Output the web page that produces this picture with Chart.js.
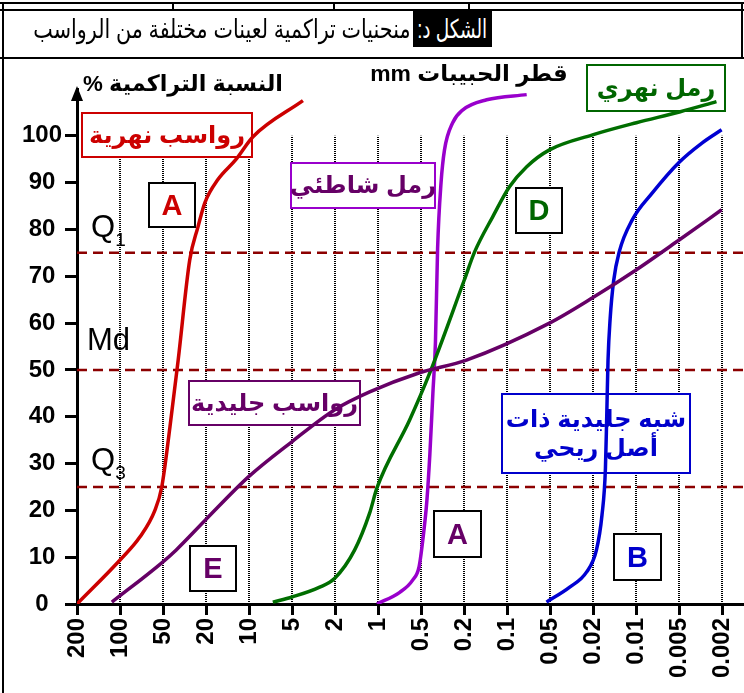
<!DOCTYPE html>
<html>
<head>
<meta charset="utf-8">
<script src="https://cdn.jsdelivr.net/npm/chart.js@4.4.1/dist/chart.umd.min.js"></script>
<style>
body { margin: 0; background: #fff; }
#page { position: relative; width: 744px; height: 693px; overflow: hidden; font-family: "Liberation Sans", Arial, "DejaVu Sans", sans-serif; }
#chart { position: absolute; left: 0; top: 0; }
.line { position: absolute; background: #000; }
.note { position: absolute; display: flex; align-items: center; justify-content: center; text-align: center; font-weight: bold; direction: rtl; line-height: 1.2; white-space: nowrap; }
.lbl { position: absolute; white-space: nowrap; }
.box { position: absolute; display: flex; align-items: center; justify-content: center; direction: rtl; white-space: nowrap; }
.box span { display: inline-block; transform-origin: center; }
</style>
</head>
<body>
<div id="page">
  <canvas id="chart" width="744" height="693"></canvas>

  <!-- frame and title row -->
  <div class="line" style="left:0;top:2px;width:744px;height:2px"></div>
  <div class="line" style="left:0;top:9px;width:744px;height:2px"></div>
  <div class="line" style="left:172px;top:2px;width:2px;height:9px"></div>
  <div class="line" style="left:333px;top:2px;width:2px;height:9px"></div>
  <div class="line" style="left:468px;top:2px;width:2px;height:9px"></div>
  <div class="line" style="left:741px;top:2px;width:2px;height:57px"></div>
  <div class="line" style="left:2px;top:2px;width:2px;height:691px"></div>
  <div class="line" style="left:0;top:57px;width:744px;height:2px"></div>

  <div class="box" style="left:413px;top:11px;width:79px;height:36px;background:#000;color:#fff"><span class="squeeze" data-w="70" style="font-size:26px">الشكل د:</span></div>
  <div class="box" style="left:33px;top:11px;width:377px;height:36px"><span class="squeeze" data-w="377" style="font-size:26px">منحنيات تراكمية لعينات مختلفة من الرواسب</span></div>

  <!-- axis titles -->
  <div class="box" style="left:78px;top:70px;width:210px;height:26px;font-weight:bold"><span class="fit" data-w="200" style="font-size:22px">النسبة التراكمية %</span></div>
  <div class="box" style="left:362px;top:60px;width:214px;height:26px;font-weight:bold"><span class="fit" data-w="198" style="font-size:22px">قطر الحبيبات mm</span></div>

  <!-- quartile marks -->
  <div class="lbl" style="left:91px;top:211px;font-size:31px;line-height:31px">Q<span style="font-size:19px;position:relative;top:9px">1</span></div>
  <div class="lbl" style="left:87px;top:324px;font-size:31px;line-height:31px">Md</div>
  <div class="lbl" style="left:91px;top:444px;font-size:31px;line-height:31px">Q<span style="font-size:19px;position:relative;top:9px">3</span></div>
</div>

<script>
// grain size classes (mm), one per column of the x axis
var sizeLabels = ['200', '100', '50', '20', '10', '5', '2', '1', '0.5', '0.2', '0.1', '0.05', '0.02', '0.01', '0.005', '0.002'];

// x = column position on the size axis (0 = 200 mm ... 15 = 0.002 mm), y = cumulative %
var riverSedX = [0, 1, 1.46, 1.81, 1.97, 2.16, 2.35, 2.62, 2.81, 2.97, 3.27, 3.69, 4.09, 5.25];
var riverSedY = [0, 9.4, 14.3, 20, 25, 37.8, 52, 73.5, 80.5, 85.7, 90.6, 94.9, 99.8, 107.5];

var glacialX = [0.81, 1.97, 2.3, 2.99, 3.99, 5.0, 5.99, 6.8, 7.96, 9.05, 10.98, 11.98, 13.0, 14.0, 14.98];
var glacialY = [0.4, 8.8, 11.5, 18, 27.2, 34.7, 41.5, 45.3, 49.4, 52.1, 60, 65.4, 71.4, 77.8, 84.2];

var riverSandX = [4.55, 5.0, 5.64, 5.99, 6.45, 6.8, 6.97, 7.73, 8.2, 9.0, 9.24, 9.66, 10.05, 10.45, 10.98, 11.98, 13.0, 14.0, 14.86];
var riverSandY = [0.4, 1.5, 3.6, 5.5, 11.5, 19.4, 24.8, 39.3, 49.4, 69.2, 75.2, 82.7, 89.1, 93.4, 97, 100.2, 102.8, 105.1, 107.3];

var beachSandX = [6.97, 7.5, 7.8, 7.95, 8.04, 8.13, 8.2, 8.27, 8.33, 8.38, 8.46, 8.54, 8.73, 8.96, 9.52, 10.45];
var beachSandY = [0, 2.5, 5.1, 8, 14, 22, 32, 45, 56, 76, 90, 97, 102.8, 105.5, 107.7, 108.8];

var aeolianX = [10.91, 11.45, 11.84, 12.07, 12.2, 12.28, 12.31, 12.34, 12.39, 12.47, 12.6, 12.9, 13.37, 14.0, 14.53, 14.98];
var aeolianY = [0.4, 3.6, 6.8, 11.5, 19, 29, 40, 52, 61, 69, 75.2, 82, 87.8, 94.4, 98.5, 101.3];

var quartiles = [25, 50, 75];

// labelled boxes on the plot
var notes = [
  { text: 'رواسب نهرية', x: 81, y: 112, w: 172, h: 46, color: '#cc0000', border: '#cc0000', size: 24 },
  { text: 'A', x: 148, y: 182, w: 48, h: 46, color: '#cc0000', border: '#000', size: 29 },
  { text: 'رمل شاطئي', x: 290, y: 162, w: 146, h: 47, color: '#660066', border: '#9900cc', size: 24 },
  { text: 'رمل نهري', x: 586, y: 64, w: 140, h: 48, color: '#006600', border: '#006600', size: 24 },
  { text: 'D', x: 515, y: 187, w: 48, h: 47, color: '#006600', border: '#000', size: 29 },
  { text: 'رواسب جليدية', x: 188, y: 380, w: 173, h: 46, color: '#660066', border: '#660066', size: 24 },
  { text: 'E', x: 189, y: 545, w: 48, h: 47, color: '#660066', border: '#000', size: 29 },
  { text: 'A', x: 433, y: 510, w: 49, h: 48, color: '#660066', border: '#000', size: 29 },
  { text: 'B', x: 613, y: 533, w: 49, h: 48, color: '#0000cc', border: '#000', size: 29 },
  { text: 'شبه جليدية ذات<br>أصل ريحي', x: 501, y: 393, w: 190, h: 81, color: '#0000cc', border: '#0000cc', size: 24 }
];

function pts(xs, ys) {
  return xs.map(function (x, i) { return { x: x, y: ys[i] }; });
}

var curves = [
  { data: pts(riverSedX, riverSedY), color: 'rgb(204,0,0)' },
  { data: pts(glacialX, glacialY), color: 'rgb(102,0,102)' },
  { data: pts(riverSandX, riverSandY), color: 'rgb(0,110,0)' },
  { data: pts(beachSandX, beachSandY), color: 'rgb(153,0,204)' },
  { data: pts(aeolianX, aeolianY), color: 'rgb(0,0,210)' }
];

var datasets = curves.map(function (c) {
  return { data: c.data, borderColor: c.color, borderWidth: 3.5, cubicInterpolationMode: 'monotone', order: 1 };
});
quartiles.forEach(function (q) {
  datasets.push({ data: [{ x: 0, y: q }, { x: 15.5, y: q }], borderColor: 'rgb(140,0,0)', borderWidth: 2.5, borderDash: [10, 6], order: 2 });
});

// dotted columns up to 100 %, note boxes and the axis arrow
var decor = {
  id: 'decor',
  beforeDatasetsDraw: function (chart) {
    var c = chart.ctx, xs = chart.scales.x, ys = chart.scales.y;
    c.save();
    c.strokeStyle = '#000';
    c.lineWidth = 2;
    c.setLineDash([1, 1]);
    for (var i = 1; i < sizeLabels.length; i++) {
      var px = Math.round(xs.getPixelForValue(i));
      c.beginPath();
      c.moveTo(px, ys.getPixelForValue(0));
      c.lineTo(px, ys.getPixelForValue(100));
      c.stroke();
    }
    c.setLineDash([]);
    notes.forEach(function (n) {
      c.fillStyle = '#fff';
      c.fillRect(n.x, n.y, n.w, n.h);
      c.strokeStyle = n.border;
      c.lineWidth = 2;
      c.strokeRect(n.x + 1, n.y + 1, n.w - 2, n.h - 2);
    });
    c.restore();
  },
  afterDraw: function (chart) {
    var c = chart.ctx, ax = chart.chartArea.left;
    c.save();
    c.fillStyle = '#000';
    c.beginPath();
    c.moveTo(ax, chart.chartArea.top - 3);
    c.lineTo(ax - 6, chart.chartArea.top + 12);
    c.lineTo(ax + 6, chart.chartArea.top + 12);
    c.closePath();
    c.fill();
    c.restore();
  }
};

var tickFont = { family: '"Liberation Sans", Arial, sans-serif', size: 24, weight: 'bold' };

var ctx = document.getElementById('chart').getContext('2d');
var chart = new Chart(ctx, {
  type: 'line',
  data: { datasets: datasets },
  options: {
    responsive: false,
    animation: false,
    layout: { padding: { top: 89, right: 0, left: 0, bottom: 0 } },
    elements: { point: { radius: 0 } },
    plugins: { legend: { display: false }, tooltip: { enabled: false } },
    scales: {
      x: {
        type: 'linear',
        min: 0,
        max: 15.5,
        afterFit: function (s) { s.height = 89; s.paddingLeft = 0; s.paddingRight = 0; },
        afterBuildTicks: function (s) {
          s.ticks = sizeLabels.map(function (l, i) { return { value: i }; });
        },
        ticks: {
          autoSkip: false,
          minRotation: 90,
          maxRotation: 90,
          padding: 3,
          color: '#000',
          font: tickFont,
          callback: function (v) { return sizeLabels[v]; }
        },
        grid: { drawOnChartArea: false, tickLength: 11, tickWidth: 3, tickColor: '#000' },
        border: { color: '#000', width: 3 }
      },
      y: {
        min: 0,
        max: 110,
        afterFit: function (s) { s.width = 77; s.paddingTop = 0; s.paddingBottom = 0; },
        afterBuildTicks: function (s) {
          s.ticks = s.ticks.filter(function (t) { return t.value <= 100; });
        },
        ticks: { stepSize: 10, crossAlign: 'center', color: '#000', font: tickFont },
        grid: { drawOnChartArea: false, tickLength: 12, tickWidth: 3, tickColor: '#000' },
        border: { color: '#000', width: 3 }
      }
    }
  },
  plugins: [decor]
});

// note texts sit over the canvas boxes
var page = document.getElementById('page');
notes.forEach(function (n) {
  var d = document.createElement('div');
  d.className = 'note';
  d.style.left = n.x + 'px';
  d.style.top = n.y + 'px';
  d.style.width = n.w + 'px';
  d.style.height = n.h + 'px';
  d.style.color = n.color;
  d.style.fontSize = n.size + 'px';
  d.innerHTML = n.text;
  page.appendChild(d);
});

// header texts: match the widths they take in the figure
document.querySelectorAll('.fit').forEach(function (el) {
  var fs = parseFloat(el.style.fontSize);
  var w = el.getBoundingClientRect().width;
  el.style.fontSize = (fs * el.dataset.w / w).toFixed(1) + 'px';
});
document.querySelectorAll('.squeeze').forEach(function (el) {
  var w = el.getBoundingClientRect().width;
  el.style.transform = 'scaleX(' + (el.dataset.w / w).toFixed(3) + ')';
});
</script>
</body>
</html>
